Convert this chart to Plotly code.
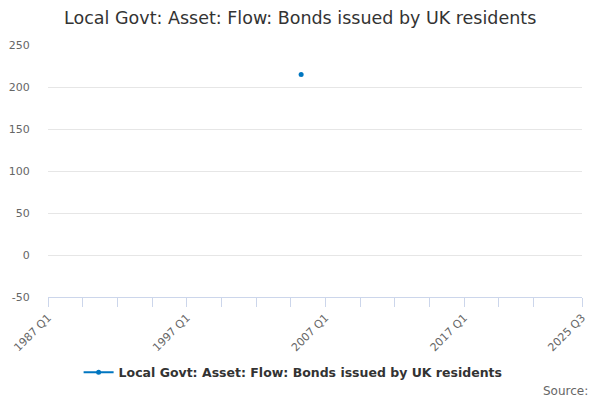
import plotly.graph_objects as go

# Quarterly periods 1987 Q1 .. 2025 Q3
quarters = [f"{y} Q{q}" for y in range(1987, 2026) for q in range(1, 5)]
quarters = quarters[:quarters.index("2025 Q3") + 1]

# Only one observation is shown in the chart (2005 Q2)
values = [None] * len(quarters)
values[quarters.index("2005 Q2")] = 215

series_name = "Local Govt: Asset: Flow: Bonds issued by UK residents"
tick_positions = quarters[0:141:10] + ["2025 Q3"]
labelled = ["1987 Q1", "1997 Q1", "2007 Q1", "2017 Q1", "2025 Q3"]
tick_labels = [t if t in labelled else "" for t in tick_positions]
y_ticks = [-50, 0, 50, 100, 150, 200, 250]

fig = go.Figure()
fig.add_trace(go.Scatter(
    x=quarters, y=values, mode="lines+markers", name=series_name,
    line=dict(color="#0076c0", width=2),
    marker=dict(color="#0076c0", size=5),
    connectgaps=False,
))

# page body has an 8px margin, so offsets are compensated here
fig.update_layout(
    width=600, height=400,
    margin=dict(l=40, r=26, t=37, b=111),
    paper_bgcolor="white", plot_bgcolor="white",
    font=dict(family="DejaVu Sans", color="#666666", size=11),
    title=dict(text=series_name, x=0.487, xanchor="center", y=0.975, yanchor="middle",
               font=dict(size=17.5, color="#333333")),
    showlegend=True,
    legend=dict(orientation="h", x=0.459, xanchor="center", y=-0.30, yanchor="middle",
                font=dict(size=12.5, color="#333333", weight="bold")),
)

fig.update_xaxes(
    type="category", categoryorder="array", categoryarray=quarters,
    range=[0, len(quarters) - 1], automargin=False,
    tickmode="array", tickvals=tick_positions, ticktext=tick_labels,
    tickangle=-45, ticks="outside", ticklen=9, tickcolor="#ccd6eb",
    showline=True, linecolor="#ccd6eb", linewidth=1,
    showgrid=False, zeroline=False,
)
fig.update_yaxes(
    range=[-50, 250], automargin=False,
    tickmode="array", tickvals=y_ticks, ticktext=[str(v) for v in y_ticks],
    showgrid=True, gridcolor="#e6e6e6", zeroline=False,
    ticks="outside", ticklen=15, tickcolor="rgba(0,0,0,0)", showline=False,
)

fig.add_annotation(text="Source:", xref="paper", yref="paper", x=1.015, y=-0.372,
                   xanchor="right", yanchor="middle", showarrow=False,
                   font=dict(size=12, color="#666666"))

fig.write_html("out.html")
